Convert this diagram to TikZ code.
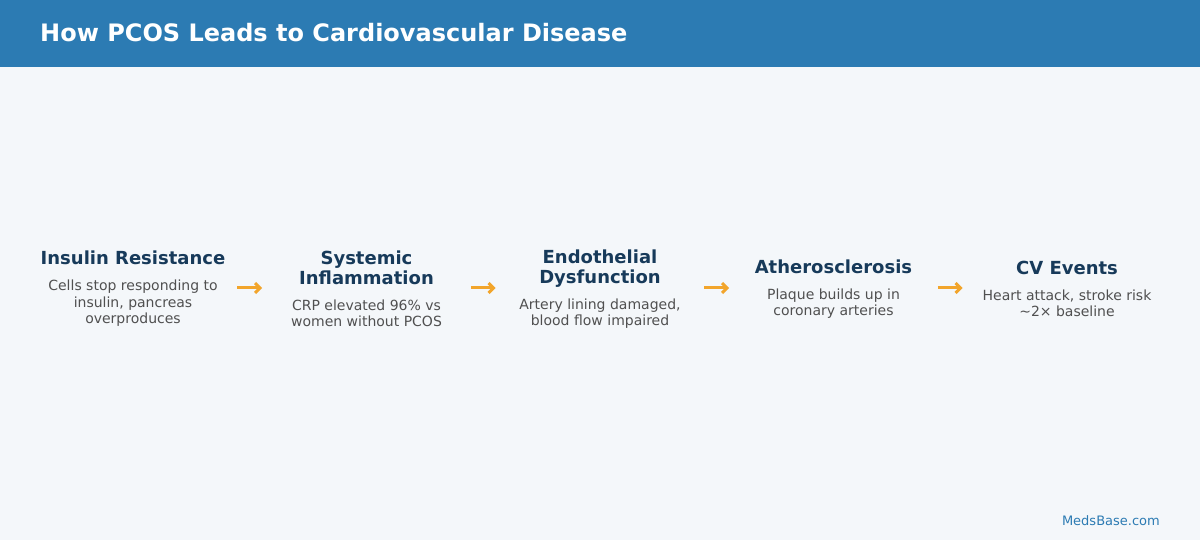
\documentclass[tikz,border=0pt]{standalone}
\usepackage{fontspec}
\setmainfont{DejaVu Sans}
\usetikzlibrary{arrows.meta}
\definecolor{band}{HTML}{2C7BB3}
\definecolor{paper}{HTML}{F4F7FA}
\definecolor{ink}{HTML}{173A5A}
\definecolor{note}{HTML}{505050}
\definecolor{arrow_1}{HTML}{F2A52B}
\newcommand{\headfont}{\bfseries\fontsize{18}{20}\selectfont\color{ink}}
\newcommand{\bodyfont}{\fontsize{14}{16.5}\selectfont\color{note}}

\begin{document}
\begin{tikzpicture}[x=1pt, y=-1pt]
            \tikzstyle{stage} = [text width = 230pt, align = flush center, inner sep = 0pt];
            \tikzstyle{flow} = [draw = arrow_1, line width = 3pt, -{Straight Barb[length=5pt, width=10pt]}, shorten < = 104.3pt, shorten > = 104.3pt];
            \useasboundingbox (0,0) rectangle (1200,540);
            \fill[paper] (0,0) rectangle (1200,540);
            \fill[band] (0,0) rectangle (1200,67);
            \node[anchor = base west, inner sep = 0pt, text = white, font = \bfseries\fontsize{24}{28}\selectfont] (title) at (40,42) {How PCOS Leads to Cardiovascular Disease};
            \foreach \h/\d/\x [count=\i] in {{Insulin Resistance}/{Cells stop responding to\\insulin, pancreas\\overproduces}/133,
                {Systemic\\Inflammation}/{CRP elevated 96\% vs\\women without PCOS}/366.5,
                {Endothelial\\Dysfunction}/{Artery lining damaged,\\blood flow impaired}/600,
                {Atherosclerosis}/{Plaque builds up in\\coronary arteries}/833.5,
                {CV Events}/{Heart attack, stroke risk\\\textasciitilde2× baseline}/1067}
            {
            \coordinate (c\i) at (\x,288);
            \node[stage] (s\i) at (\x,289) {{\headfont \h\par}\vspace{9.5pt}{\bodyfont \d\par}};
            }
            \foreach \i [evaluate=\i as \j using int(\i+1)] in {1,...,4}
            {\draw[flow] (c\i) -- (c\j);}
            \node[anchor = base east, inner sep = 0pt, text = band, font = \fontsize{13}{15}\selectfont] (site) at (1160,525) {MedsBase.com};
        \end{tikzpicture}
\end{document}
